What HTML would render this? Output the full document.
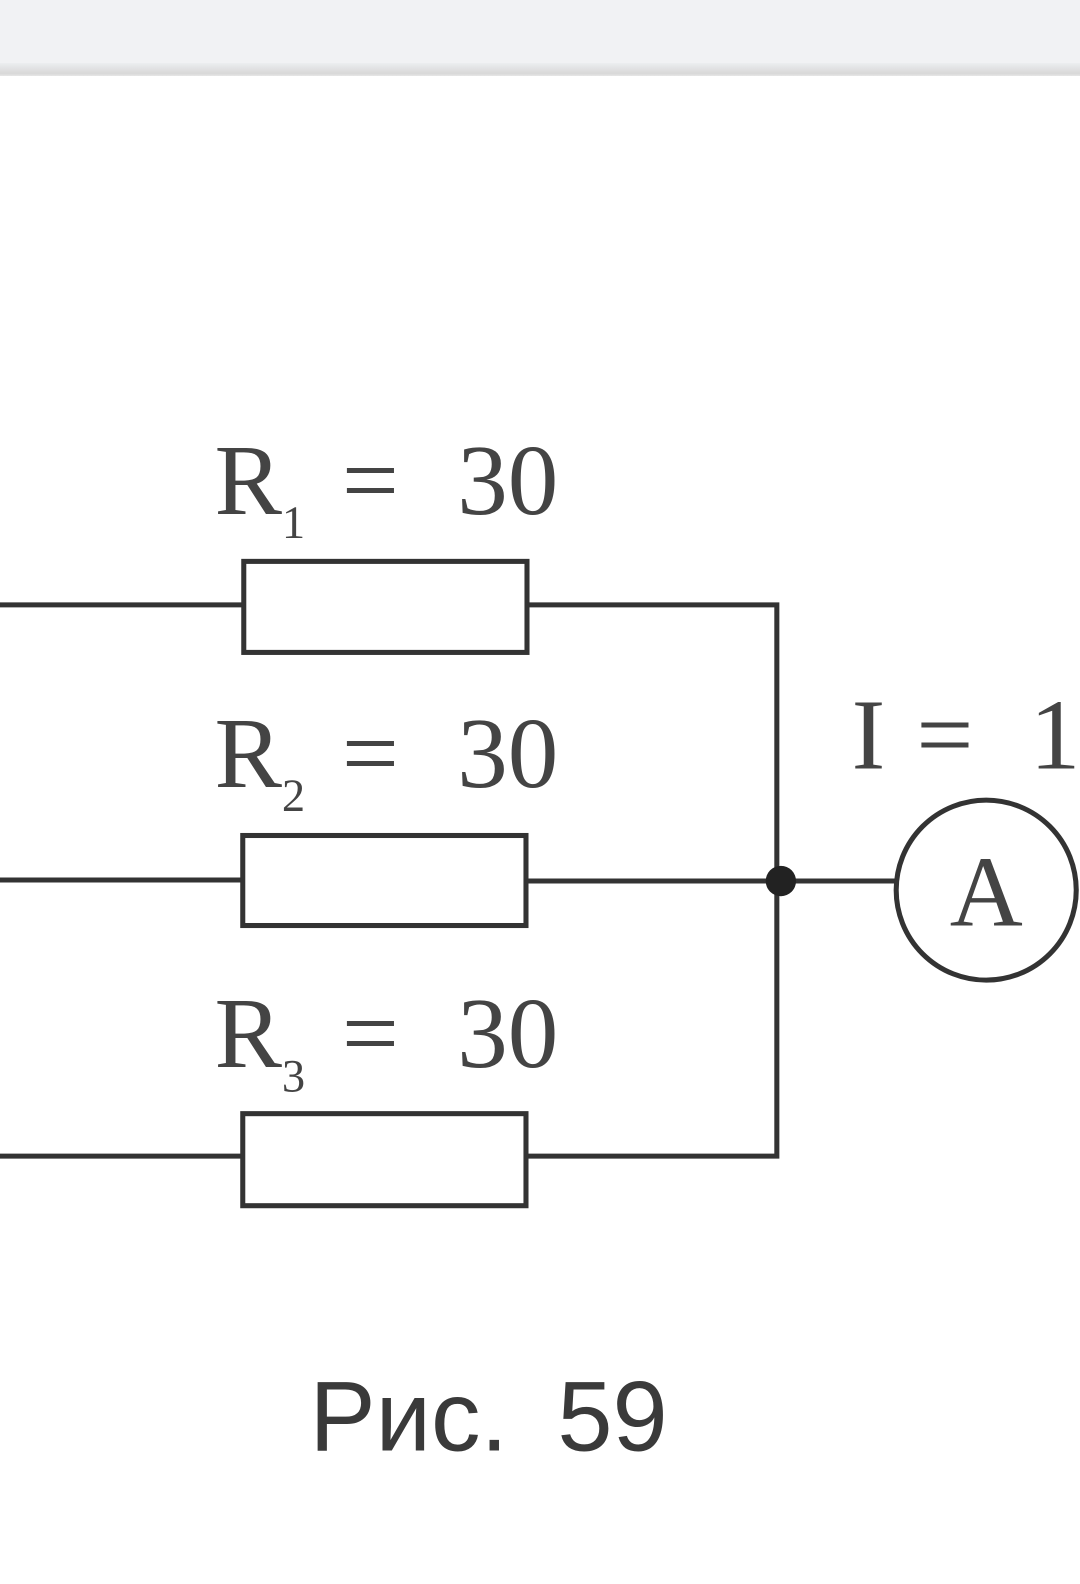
<!DOCTYPE html>
<html><head><meta charset="utf-8"><style>
html,body{margin:0;padding:0;background:#fff;}
body{width:1080px;height:1584px;position:relative;overflow:hidden;}
.bar{position:absolute;left:0;top:0;width:1080px;height:63px;background:#f1f2f4;}
.sh{position:absolute;left:0;top:63px;width:1080px;height:13px;background:linear-gradient(#eceef0,#d8d8d8 80%,#e6e6e6);}
</style></head><body>
<div class="bar"></div><div class="sh"></div>
<svg width="1080" height="1584" style="position:absolute;left:0;top:0" xmlns="http://www.w3.org/2000/svg">
<g transform="scale(1.0115)">
<g stroke="#333" stroke-width="5" fill="none">
<line x1="0" y1="598" x2="241" y2="598"/>
<rect x="241" y="555" width="280" height="90"/>
<polyline points="521,598 768,598 768,1143 521,1143"/>
<line x1="0" y1="870" x2="240" y2="870"/>
<rect x="240" y="826" width="280" height="89"/>
<line x1="520" y1="871" x2="886" y2="871"/>
<line x1="0" y1="1143" x2="240" y2="1143"/>
<rect x="240" y="1101" width="280" height="91"/>
<circle cx="975" cy="880" r="89"/>
</g>
<circle cx="772" cy="871" r="15" fill="#222"/>
<g font-family="Liberation Serif, serif" fill="#444" font-size="100">
<text x="212" y="508">R<tspan font-size="46" dy="24">1</tspan><tspan dy="-24" x="338">=</tspan><tspan x="452">30</tspan></text>
<text x="212" y="778">R<tspan font-size="46" dy="24">2</tspan><tspan dy="-24" x="338">=</tspan><tspan x="452">30</tspan></text>
<text x="212" y="1055">R<tspan font-size="46" dy="24">3</tspan><tspan dy="-24" x="338">=</tspan><tspan x="452">30</tspan></text>
<text x="842" y="760">I<tspan x="906">=</tspan><tspan x="1018">1</tspan></text>
<text x="939" y="915">A</text>
</g>
<text x="306" y="1434" font-family="Liberation Sans, sans-serif" font-size="98" fill="#3a3a3a">Рис.<tspan x="551">59</tspan></text>
</g>
</svg>
</body></html>
